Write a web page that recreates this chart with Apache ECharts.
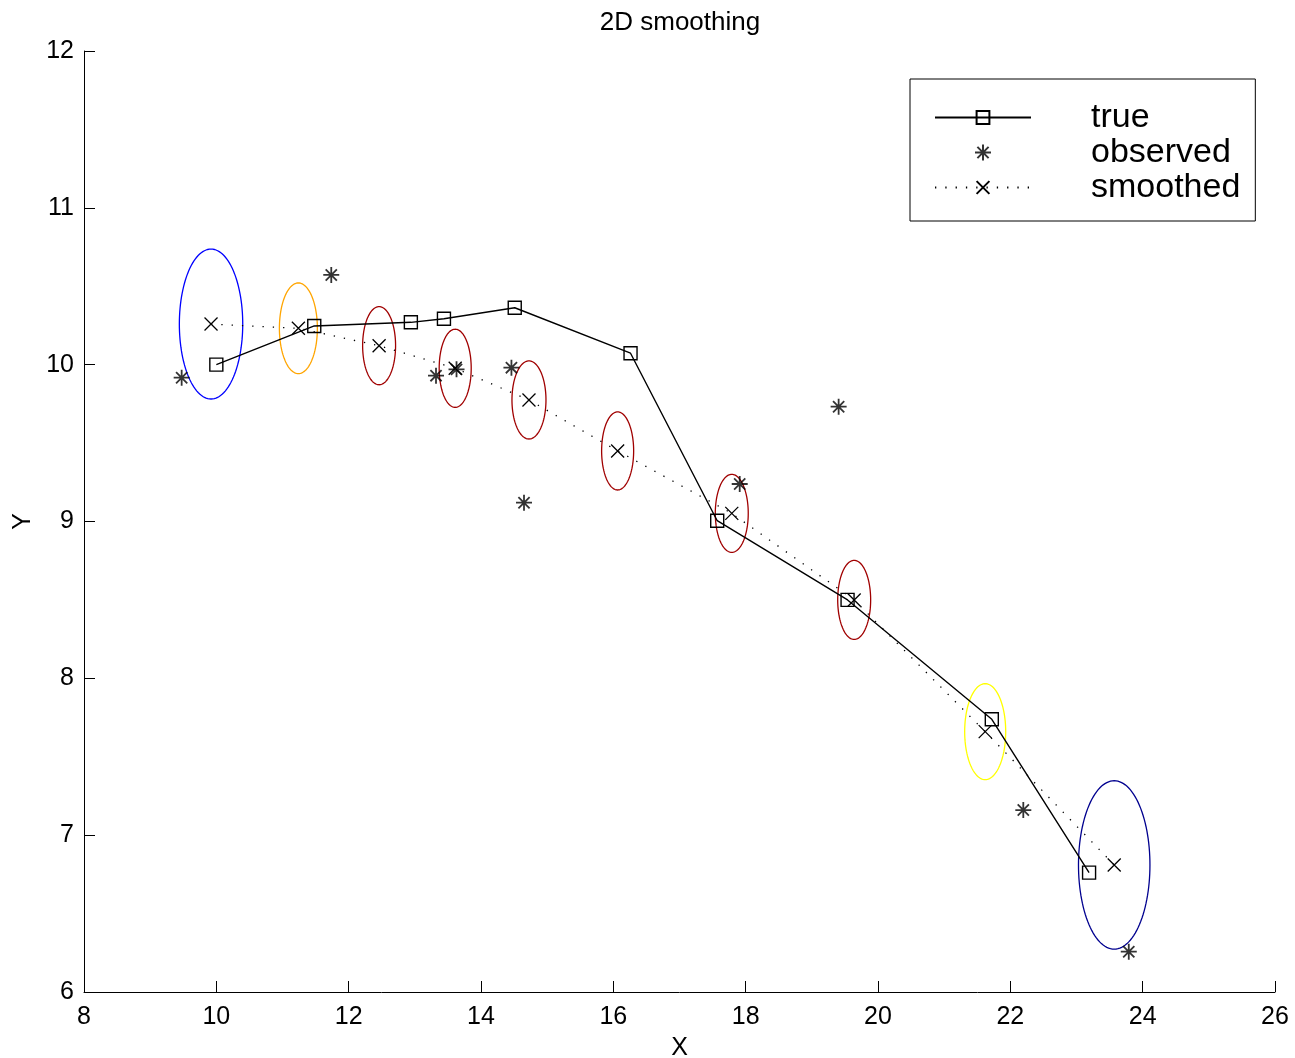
<!DOCTYPE html>
<html>
<head>
<meta charset="utf-8">
<script src="https://cdn.jsdelivr.net/npm/echarts@6/dist/echarts.min.js"></script>
<style>
  html, body { margin: 0; padding: 0; background: #fff; overflow: hidden; }
  #chart { width: 1295px; height: 1058px; }
</style>
</head>
<body>
<div id="chart"></div>
<script>
// ---- data ----
var trueX = [10.0, 11.48, 12.94, 13.44, 14.51, 16.26, 17.57, 19.54, 21.72, 23.19];
var trueY = [10.0, 10.247, 10.27, 10.293, 10.363, 10.073, 9.005, 8.50, 7.739, 6.761];

var obsX = [9.476, 11.737, 13.32, 13.63, 14.46, 14.65, 17.91, 19.405, 22.196, 23.79];
var obsY = [9.917, 10.572, 9.930, 9.970, 9.981, 9.12, 9.239, 9.732, 7.160, 6.257];

var smX = [9.92, 11.24, 12.46, 13.61, 14.725, 16.065, 17.79, 19.64, 21.62, 23.57];
var smY = [10.259, 10.232, 10.121, 9.977, 9.775, 9.450, 9.052, 8.50, 7.66, 6.81];

var ellRx = [0.479, 0.287, 0.249, 0.242, 0.257, 0.242, 0.249, 0.249, 0.31, 0.54];
var ellRy = [0.478, 0.289, 0.249, 0.249, 0.249, 0.249, 0.249, 0.252, 0.306, 0.537];
var ellColors = ['#0000ff', '#ffa500', '#a00000', '#a00000', '#a00000', '#a00000', '#a00000', '#a00000', '#ffff00', '#00008f'];

var xTicks = {min: 8, max: 26, interval: 2};
var yTicks = {min: 6, max: 12, interval: 1};
var seriesNames = ['true', 'observed', 'smoothed'];

// ---- build ----
function zip(a, b) { return a.map(function (v, i) { return [v, b[i]]; }); }
var ellData = smX.map(function (v, i) { return [v, smY[i], ellRx[i], ellRy[i]]; });

var FONT = '"Liberation Sans", Arial, Helvetica, sans-serif';
var SQUARE = 'path://M0,0L10,0L10,10L0,10Z';
var STAR = 'path://M0,5L10,5M5,0L5,10M1.5,1.5L8.5,8.5M1.5,8.5L8.5,1.5';
var CROSS = 'path://M0,0L10,10M0,10L10,0';

var chart = echarts.init(document.getElementById('chart'), null, {renderer: 'canvas'});
var option = {
  animation: false,
  backgroundColor: '#fff',
  textStyle: {fontFamily: FONT},
  title: {
    text: '2D smoothing',
    left: 680, top: 10, textAlign: 'center', padding: 0,
    textStyle: {fontFamily: FONT, fontSize: 26, fontWeight: 'normal', color: '#000'}
  },
  grid: {left: 84, right: 20, top: 51, bottom: 66, containLabel: false, outerBoundsMode: 'none'},
  xAxis: {
    type: 'value', min: xTicks.min, max: xTicks.max, interval: xTicks.interval,
    name: 'X', nameLocation: 'middle', nameGap: 44,
    nameTextStyle: {fontFamily: FONT, fontSize: 25, color: '#000'},
    axisLine: {show: true, onZero: false, lineStyle: {color: '#000', width: 1}},
    axisTick: {show: true, inside: true, length: 11, lineStyle: {color: '#000', width: 1}},
    axisLabel: {fontFamily: FONT, fontSize: 25, color: '#000', margin: 13},
    splitLine: {show: false}
  },
  yAxis: {
    type: 'value', min: yTicks.min, max: yTicks.max, interval: yTicks.interval,
    name: 'Y', nameLocation: 'middle', nameGap: 35,
    nameTextStyle: {fontFamily: FONT, fontSize: 25, color: '#000'},
    axisLine: {show: true, onZero: false, lineStyle: {color: '#000', width: 1}},
    axisTick: {show: true, inside: true, length: 11, lineStyle: {color: '#000', width: 1}},
    axisLabel: {fontFamily: FONT, fontSize: 25, color: '#000', margin: 10},
    splitLine: {show: false}
  },
  legend: {
    data: seriesNames,
    orient: 'vertical',
    left: 910, top: 79,
    padding: [21, 15, 16, 24],
    itemWidth: 96, itemHeight: 16, itemGap: 0,
    borderColor: '#000', borderWidth: 1, backgroundColor: '#fff',
    selectedMode: false,
    textStyle: {fontFamily: FONT, fontSize: 34, color: '#000', lineHeight: 35, padding: [0, 0, 0, 55]}
  },
  series: [
    {
      name: 'ellipses', type: 'custom', coordinateSystem: 'cartesian2d',
      data: ellData, silent: true, z: 1,
      encode: {x: 0, y: 1},
      renderItem: function (params, api) {
        var cx = api.value(0), cy = api.value(1), rx = api.value(2), ry = api.value(3);
        var pts = [];
        for (var k = 0; k <= 120; k++) {
          var t = k / 120 * Math.PI * 2;
          pts.push(api.coord([cx + rx * Math.cos(t), cy + ry * Math.sin(t)]));
        }
        return {
          type: 'polyline',
          shape: {points: pts},
          style: {stroke: ellColors[params.dataIndex], lineWidth: 1.3, fill: null}
        };
      }
    },
    {
      name: 'true', type: 'line', data: zip(trueX, trueY), z: 3,
      symbol: SQUARE, symbolSize: 13,
      itemStyle: {color: 'rgba(0,0,0,0)', borderColor: '#000', borderWidth: 1.4},
      lineStyle: {color: '#000', width: 1.4},
      emphasis: {disabled: true}
    },
    {
      name: 'observed', type: 'scatter', data: zip(obsX, obsY), z: 3,
      symbol: STAR, symbolSize: 16,
      itemStyle: {color: 'rgba(0,0,0,0)', borderColor: '#000', borderWidth: 1.8},
      emphasis: {disabled: true}
    },
    {
      name: 'smoothed', type: 'line', data: zip(smX, smY), z: 3,
      symbol: CROSS, symbolSize: 13,
      itemStyle: {color: 'rgba(0,0,0,0)', borderColor: '#000', borderWidth: 1.3},
      lineStyle: {color: '#000', width: 1.3, type: [1.3, 9]},
      emphasis: {disabled: true}
    }
  ]
};
chart.setOption(option);
</script>
</body>
</html>
